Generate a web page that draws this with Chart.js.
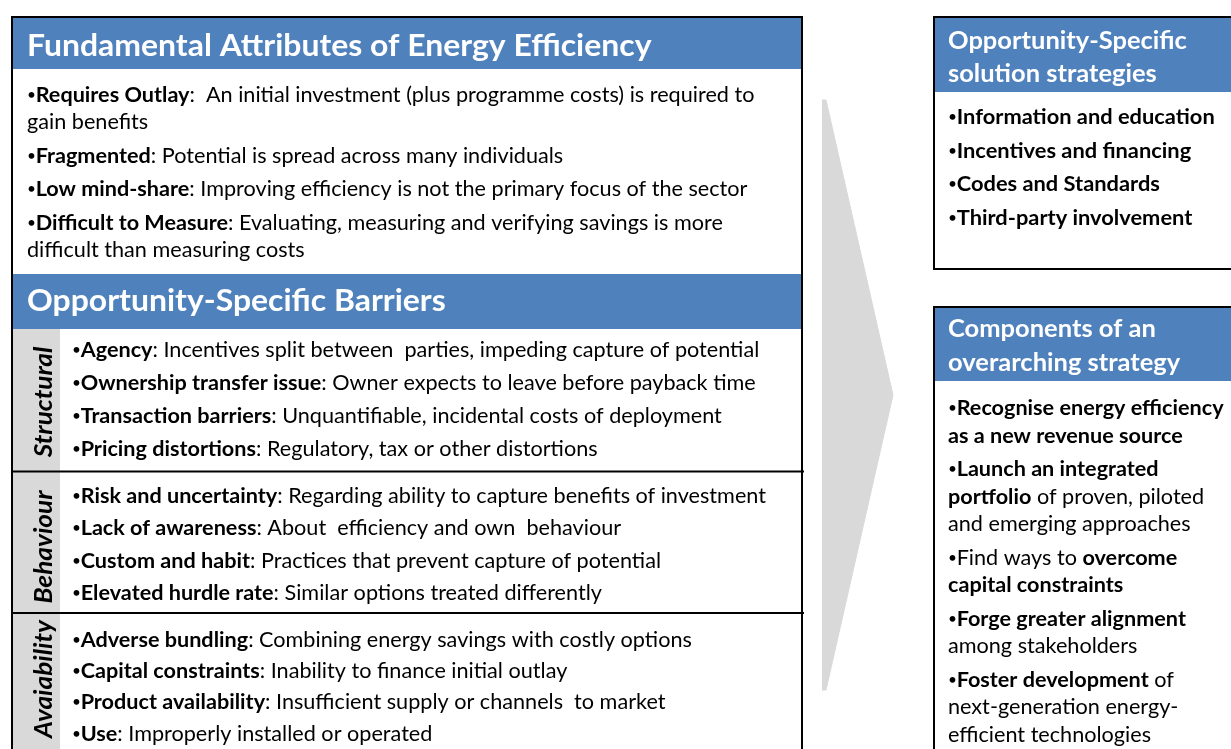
<!DOCTYPE html>
<html>
<head>
<meta charset="utf-8">
<script src="https://cdn.jsdelivr.net/npm/chart.js@4.4.1/dist/chart.umd.min.js"></script>
<style>
  html, body { margin: 0; padding: 0; background: #fff; }
  #wrap { width: 1231px; height: 749px; }
</style>
</head>
<body>
<div id="wrap"><canvas id="diagram" width="1231" height="749"></canvas></div>
<script>
// ---- content ----
const fundamentalTitle = 'Fundamental Attributes of Energy Efficiency';
const fundamentalItems = [
    ['•**Requires Outlay**:  An initial investment (plus programme costs) is required to', 'gain benefits'],
    ['•**Fragmented**: Potential is spread across many individuals'],
    ['•**Low mind-share**: Improving efficiency is not the primary focus of the sector'],
    ['•**Difficult to Measure**: Evaluating, measuring and verifying savings is more', 'difficult than measuring costs']
];

const barriersTitle = 'Opportunity-Specific Barriers';
const barrierGroups = ['Structural', 'Behaviour', 'Avaiability'];
const structuralItems = [
    '•**Agency**: Incentives split between  parties, impeding capture of potential',
    '•**Ownership transfer issue**: Owner expects to leave before payback time',
    '•**Transaction barriers**: Unquantifiable, incidental costs of deployment',
    '•**Pricing distortions**: Regulatory, tax or other distortions'
];
const behaviourItems = [
    '•**Risk and uncertainty**: Regarding ability to capture benefits of investment',
    '•**Lack of awareness**: About  efficiency and own  behaviour',
    '•**Custom and habit**: Practices that prevent capture of potential',
    '•**Elevated hurdle rate**: Similar options treated differently'
];
const availabilityItems = [
    '•**Adverse bundling**: Combining energy savings with costly options',
    '•**Capital constraints**: Inability to finance initial outlay',
    '•**Product availability**: Insufficient supply or channels  to market',
    '•**Use**: Improperly installed or operated'
];

const solutionTitle = ['Opportunity-Specific', 'solution strategies'];
const solutionItems = [
    '•**Information and education**',
    '•**Incentives and financing**',
    '•**Codes and Standards**',
    '•**Third-party involvement**'
];

const componentTitle = ['Components of an', 'overarching strategy'];
const componentItems = [
    ['•**Recognise energy efficiency**', '**as a new revenue source**'],
    ['•**Launch an integrated**', '**portfolio** of proven, piloted', 'and emerging approaches'],
    ['•Find ways to **overcome**', '**capital constraints**'],
    ['•**Forge greater alignment**', 'among stakeholders'],
    ['•**Foster development** of', 'next-generation energy-', 'efficient technologies']
];

// chevron arrow between the two columns (upper and lower edge)
const arrowX = [822, 826, 893];
const arrowTopY = [100, 100, 395];
const arrowBottomY = [690, 690, 395];

// ---- styling ----
const BLUE = '#4F81BD';
const GREY = '#D9D9D9';
const FONT = 'Lato, "Open Sans", sans-serif';

function parseRich(line) {
    // '**' toggles bold
    return line.split('**').map((t, i) => [t, i % 2 === 1]).filter(p => p[0].length);
}

function drawRich(ctx, line, x, y, size, sx) {
    ctx.save();
    ctx.translate(x, y);
    ctx.scale(sx, 1);
    let cx = 0;
    parseRich(line).forEach(([t, bold]) => {
        if (t[0] === '•') {
            // small office-style bullet
            ctx.font = Math.round(size * 0.72) + 'px ' + FONT;
            ctx.fillText('•', cx, -size * 0.09);
            cx += size * 0.4;
            t = t.slice(1);
            if (!t) return;
        }
        ctx.font = (bold ? 'bold ' : '') + size + 'px ' + FONT;
        ctx.fillText(t, cx, 0);
        cx += ctx.measureText(t).width;
    });
    ctx.restore();
}

function drawItems(ctx, items, x, y0, gap, wrap, size, sx) {
    let y = y0;
    items.forEach(item => {
        const lines = Array.isArray(item) ? item : [item];
        lines.forEach((l, i) => {
            if (i > 0) y += wrap;
            drawRich(ctx, l, x, y, size, sx);
        });
        y += gap;
    });
}

const diagramPlugin = {
    id: 'diagram',
    beforeDatasetsDraw(chart) {
        const ctx = chart.ctx;
        ctx.save();
        // left box
        ctx.fillStyle = BLUE;
        ctx.fillRect(13, 17, 790, 52);
        ctx.fillRect(13, 274, 790, 55);
        ctx.fillStyle = GREY;
        ctx.fillRect(13, 329, 47, 430);
        ctx.strokeStyle = '#000';
        ctx.lineWidth = 2;
        ctx.strokeRect(12, 17, 790, 760);
        ctx.beginPath();
        ctx.moveTo(12, 471.5); ctx.lineTo(804, 471.5);
        ctx.moveTo(12, 613); ctx.lineTo(804, 613);
        ctx.stroke();
        // right boxes
        ctx.fillStyle = BLUE;
        ctx.fillRect(935, 17, 320, 75);
        ctx.fillRect(935, 307, 320, 74);
        ctx.strokeRect(934, 17, 330, 252);
        ctx.strokeRect(934, 307, 330, 460);
        ctx.restore();
    },
    afterDatasetsDraw(chart) {
        const ctx = chart.ctx;
        ctx.save();
        ctx.textBaseline = 'alphabetic';
        // headers
        ctx.fillStyle = '#fff';
        drawRich(ctx, '**' + fundamentalTitle + '**', 27, 56, 31, 1.03);
        drawRich(ctx, '**' + barriersTitle + '**', 27, 311, 31, 1.03);
        solutionTitle.forEach((t, i) => drawRich(ctx, '**' + t + '**', 948, 48.5 + i * 33.5, 25, 1.02));
        componentTitle.forEach((t, i) => drawRich(ctx, '**' + t + '**', 948, 337 + i * 33.5, 25, 1.02));

        ctx.fillStyle = '#000';
        drawItems(ctx, fundamentalItems, 27, 102, 33.5, 27, 21, 1.03);
        drawItems(ctx, structuralItems, 72, 356.5, 33, 0, 21, 1.03);
        drawItems(ctx, behaviourItems, 72, 503, 32.3, 0, 21, 1.03);
        drawItems(ctx, availabilityItems, 72, 646.5, 31.4, 0, 21, 1.03);
        drawItems(ctx, solutionItems, 948, 124, 33.5, 0, 21, 1.04);
        drawItems(ctx, componentItems, 948, 415, 33.5, 27.5, 21, 1.03);

        // rotated group labels in the grey column
        const centers = [402, 547, null];
        ctx.font = 'italic bold 25px ' + FONT;
        barrierGroups.forEach((g, i) => {
            const w = ctx.measureText(g).width * 1.05;
            const cy = centers[i] !== null ? centers[i] : 620 + w / 2;
            ctx.save();
            ctx.translate(52, cy);
            ctx.rotate(-Math.PI / 2);
            ctx.scale(1.05, 1);
            ctx.textAlign = 'center';
            ctx.fillText(g, 0, 0);
            ctx.restore();
        });
        ctx.restore();
    }
};

const toPoints = (xs, ys) => xs.map((x, i) => ({ x: x, y: ys[i] }));

new Chart(document.getElementById('diagram').getContext('2d'), {
    type: 'scatter',
    data: {
        datasets: [
            {
                data: toPoints(arrowX, arrowTopY),
                showLine: true,
                borderColor: GREY,
                backgroundColor: GREY,
                borderWidth: 1,
                pointRadius: 0,
                fill: '+1'
            },
            {
                data: toPoints(arrowX, arrowBottomY),
                showLine: true,
                borderColor: GREY,
                backgroundColor: GREY,
                borderWidth: 1,
                pointRadius: 0,
                fill: false
            }
        ]
    },
    options: {
        responsive: false,
        animation: false,
        layout: { padding: 0 },
        plugins: { legend: { display: false }, tooltip: { enabled: false } },
        scales: {
            x: { type: 'linear', min: 0, max: 1231, display: false },
            y: { type: 'linear', min: 0, max: 749, reverse: true, display: false }
        }
    },
    plugins: [diagramPlugin]
});
</script>
</body>
</html>
